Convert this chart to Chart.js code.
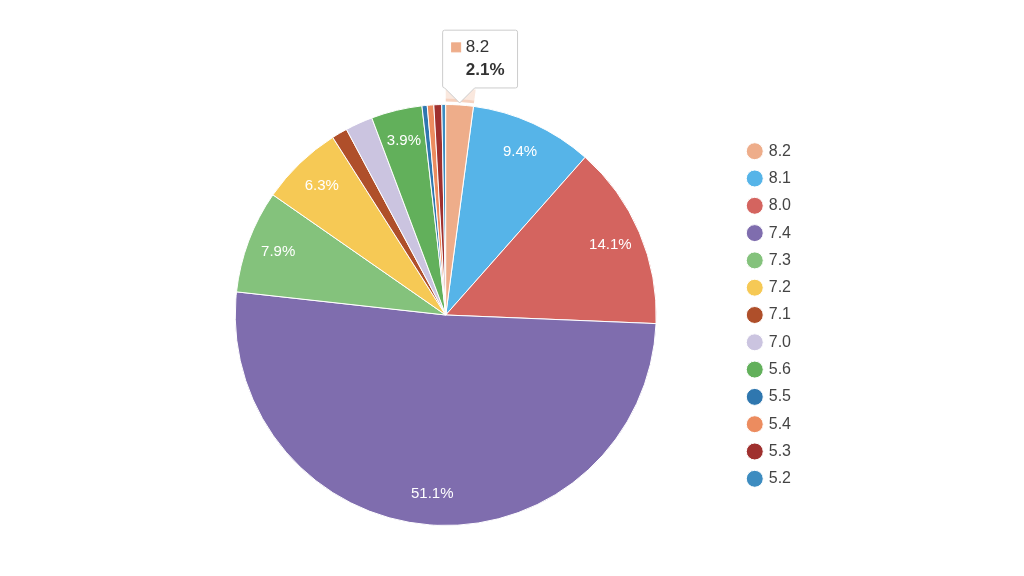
<!DOCTYPE html>
<html>
<head>
<meta charset="utf-8">
<title>Pie</title>
<script src="https://cdn.jsdelivr.net/npm/chart.js@4.4.1/dist/chart.umd.min.js"></script>
<style>
  html, body { margin: 0; padding: 0; background: #fff; }
</style>
</head>
<body>
<canvas id="pie" width="1024" height="576"></canvas>
<script>
// slice labels (clockwise from 12 o'clock) and their counts
const labels = ["8.2", "8.1", "8.0", "7.4", "7.3", "7.2", "7.1", "7.0", "5.6", "5.5", "5.4", "5.3", "5.2"];
const counts = [21, 94, 141, 510, 79, 63, 12, 21, 39, 4, 5, 6, 3];
const colors = ["#eead8a", "#56b4e8", "#d4645f", "#7f6dae", "#84c27c", "#f6c955", "#af4f2a",
                "#cbc4e0", "#62b05b", "#2f77af", "#ec8c5f", "#9f302e", "#3d8cc0"];
const hovered = 0; // slice shown with tooltip

const total = counts.reduce((s, v) => s + v, 0);
const pct = v => (v / total * 100).toFixed(1) + "%";

Chart.defaults.font.family = "'Liberation Sans', Arial, sans-serif";

function rgba(hex, a) {
  const n = parseInt(hex.slice(1), 16);
  return `rgba(${n >> 16},${(n >> 8) & 255},${n & 255},${a})`;
}

// tooltip sits on the outer edge of the slice
Chart.Tooltip.positioners.sliceTop = function(items) {
  if (!items.length) return false;
  const p = items[0].element.getProps(["x", "y", "startAngle", "endAngle", "outerRadius"], true);
  const mid = (p.startAngle + p.endAngle) / 2;
  return { x: p.x + Math.cos(mid) * p.outerRadius, y: p.y + Math.sin(mid) * p.outerRadius };
};

// percent labels inside bigger slices
const pctLabels = {
  id: "pctLabels",
  afterDatasetsDraw(chart) {
    const ctx = chart.ctx;
    const meta = chart.getDatasetMeta(0);
    ctx.save();
    ctx.font = "15px 'Liberation Sans', Arial, sans-serif";
    ctx.fillStyle = "#fff";
    ctx.textAlign = "center";
    ctx.textBaseline = "middle";
    meta.data.forEach((arc, i) => {
      if (counts[i] / total < 0.03) return;
      const p = arc.getProps(["x", "y", "startAngle", "endAngle", "outerRadius"], true);
      const mid = (p.startAngle + p.endAngle) / 2;
      const r = p.outerRadius * 0.85;
      ctx.fillText(pct(counts[i]), p.x + Math.cos(mid) * r, p.y + Math.sin(mid) * r);
    });
    ctx.restore();
  }
};

// pale ring around the active slice
const halo = {
  id: "halo",
  afterDatasetsDraw(chart) {
    const ctx = chart.ctx;
    chart.getActiveElements().forEach(({ element, index }) => {
      const p = element.getProps(["x", "y", "startAngle", "endAngle", "outerRadius"], true);
      const ring = (r0, r1, a) => {
        ctx.beginPath();
        ctx.arc(p.x, p.y, r1, p.startAngle, p.endAngle);
        ctx.arc(p.x, p.y, r0, p.endAngle, p.startAngle, true);
        ctx.closePath();
        ctx.fillStyle = rgba(colors[index], a);
        ctx.fill();
      };
      ctx.save();
      ring(p.outerRadius + 6, p.outerRadius + 17, 0.28);
      ring(p.outerRadius + 3, p.outerRadius + 6, 0.55);
      ctx.restore();
    });
  }
};

const chart = new Chart(document.getElementById("pie"), {
  type: "pie",
  data: {
    labels,
    datasets: [{
      data: counts,
      backgroundColor: colors,
      hoverBackgroundColor: colors,
      borderColor: "#fff",
      hoverBorderColor: "#fff",
      borderWidth: 1,
      hoverBorderWidth: 1,
      offset: 0,
      hoverOffset: 0
    }]
  },
  options: {
    responsive: false,
    animation: false,
    events: [],
    layout: { padding: { top: 104, bottom: 50, left: 154, right: 223 } },
    plugins: {
      legend: {
        position: "right",
        labels: {
          usePointStyle: true,
          pointStyle: "circle",
          boxWidth: 12,
          boxHeight: 12,
          padding: 11.3,
          color: "#444",
          font: { size: 16 }
        }
      },
      tooltip: {
        position: "sliceTop",
        xAlign: "left",
        yAlign: "bottom",
        backgroundColor: "#fff",
        borderColor: "#cccccc",
        borderWidth: 1,
        cornerRadius: 2,
        caretSize: 15,
        caretPadding: 2,
        padding: { left: 9, right: 13, top: 7, bottom: 7 },
        bodyColor: "#333",
        footerColor: "#333",
        bodyFont: { size: 17 },
        footerFont: { size: 17, weight: "bold" },
        footerMarginTop: 3,
        boxWidth: 9,
        boxHeight: 9,
        boxPadding: 3,
        multiKeyBackground: colors[hovered],
        callbacks: {
          title: () => "",
          label: ctx => ctx.label,
          footer: items => "   " + pct(counts[items[0].dataIndex]),
          labelColor: ctx => ({
            borderColor: colors[ctx.dataIndex],
            backgroundColor: colors[ctx.dataIndex],
            borderWidth: 1,
            borderRadius: 0
          })
        }
      }
    }
  },
  plugins: [pctLabels, halo]
});

chart.setActiveElements([{ datasetIndex: 0, index: hovered }]);
chart.tooltip.setActiveElements([{ datasetIndex: 0, index: hovered }], { x: 0, y: 0 });
chart.update();
</script>
</body>
</html>
